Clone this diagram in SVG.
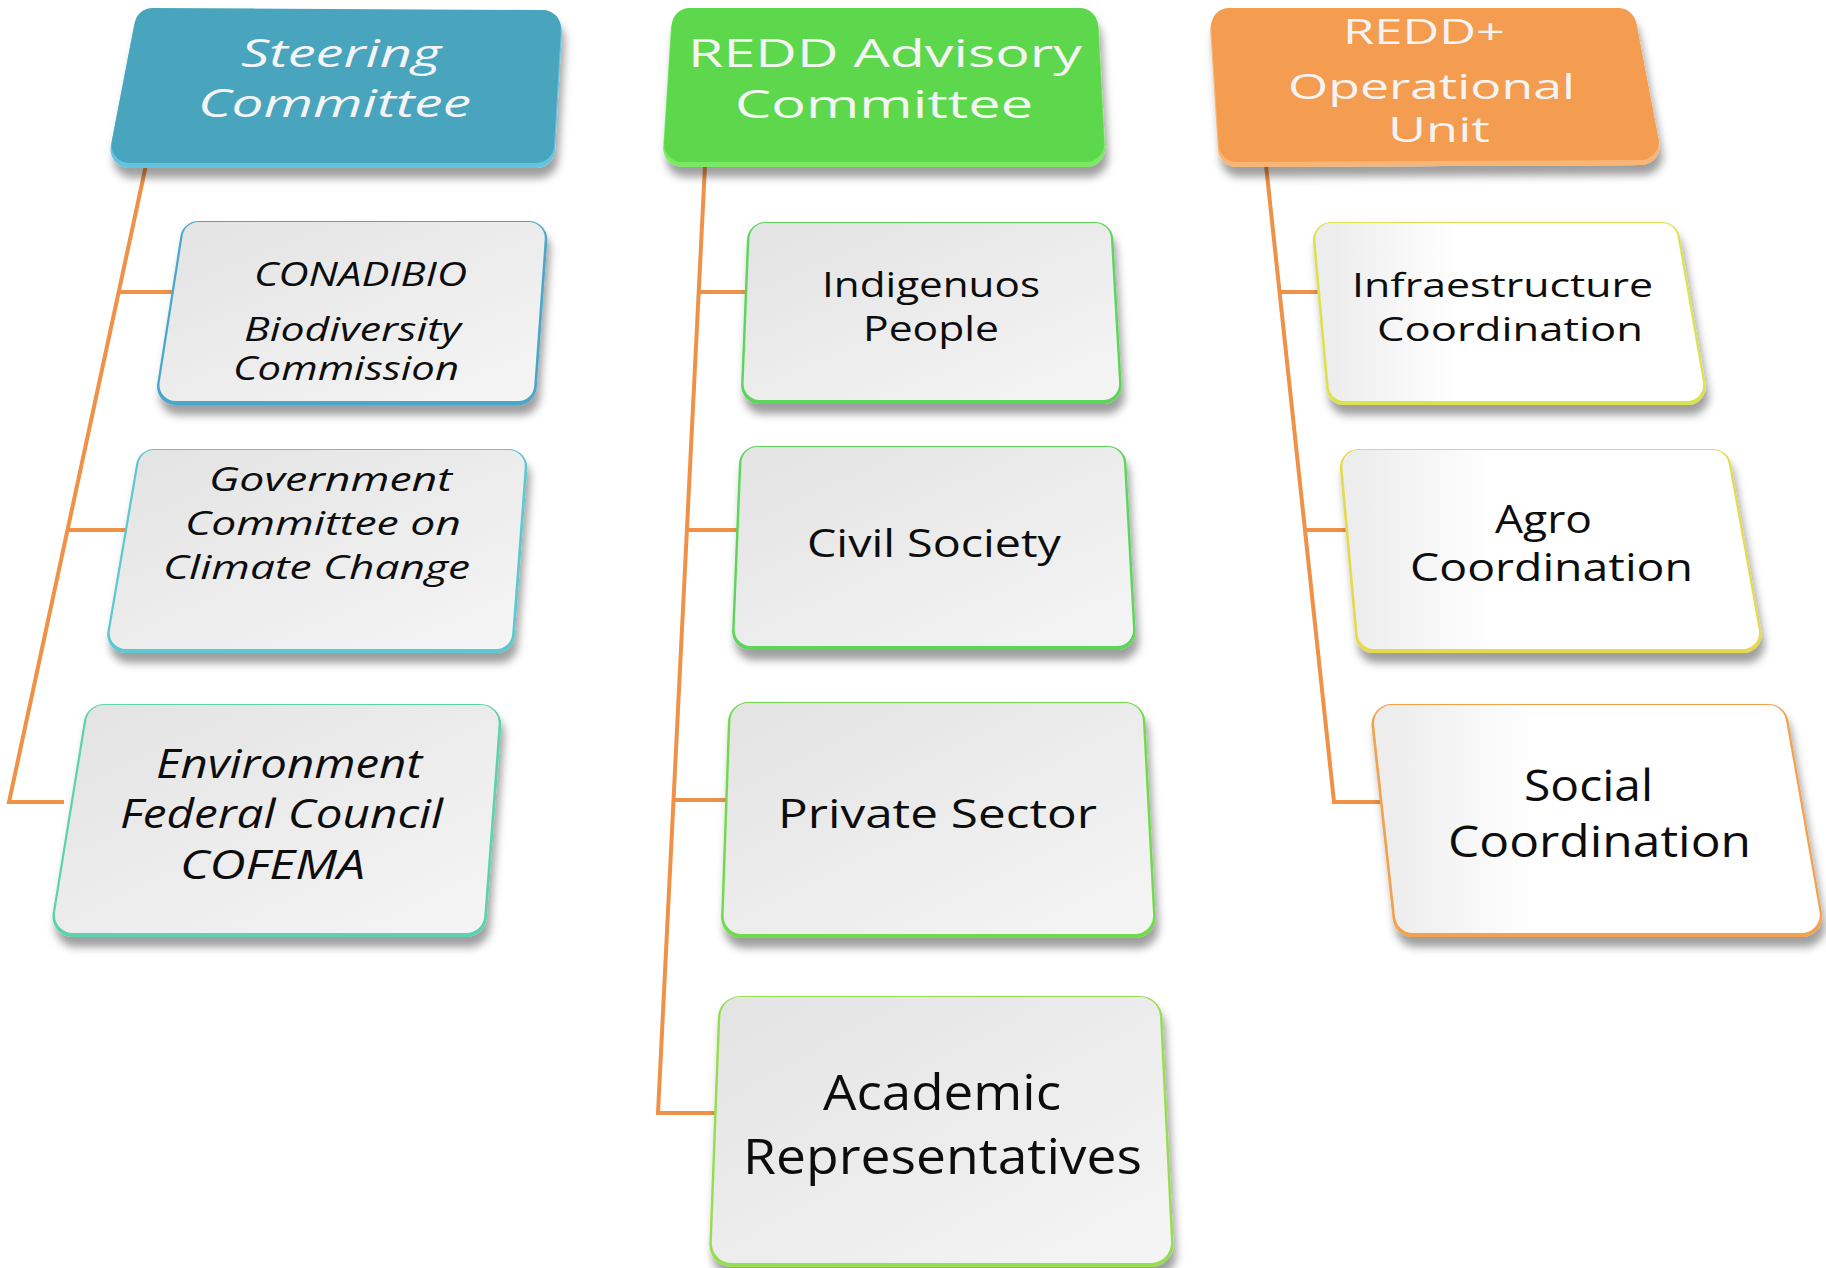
<svg xmlns="http://www.w3.org/2000/svg" xmlns:xlink="http://www.w3.org/1999/xlink" width="1826" height="1268" viewBox="0 0 1826 1268">
<defs>
<style>
.sh{filter:url(#ds)}
use{stroke-linejoin:round}
.b16{stroke-width:37}.f16{stroke-width:32}
.b18{stroke-width:41}.f18{stroke-width:36}
.b20{stroke-width:45}.f20{stroke-width:40}
.hb{stroke-width:38}.hf{stroke-width:36}
.gray{fill:url(#gBody);stroke:url(#gBody)}
.white{fill:url(#gWhite);stroke:url(#gWhite)}
.k-cona{fill:#4AA7CB;stroke:#4AA7CB}
.k-gov{fill:#5BC8CF;stroke:#5BC8CF}
.k-env{fill:#5CD3AE;stroke:#5CD3AE}
.k-ind{fill:#5CD65A;stroke:#5CD65A}
.k-pri{fill:#70DA4C;stroke:#70DA4C}
.k-aca{fill:#96DD50;stroke:#96DD50}
.k-inf{fill:#DCE250;stroke:#DCE250}
.k-agro{fill:#E5DA4E;stroke:#E5DA4E}
.k-soc{fill:#F2A24E;stroke:#F2A24E}
.h-steer{fill:#49A4BE;stroke:#49A4BE}
.hv-steer{fill:#64C4DE;stroke:#64C4DE}
.h-redd{fill:#5DD74B;stroke:#5DD74B}
.hv-redd{fill:#7AEA62;stroke:#7AEA62}
.h-oper{fill:#F49C4F;stroke:#F49C4F}
.hv-oper{fill:#F8B676;stroke:#F8B676}
text{font-family:"Open Sans","Liberation Sans",sans-serif}
.ht{fill:#F4F4F4}
.bt{fill:#0D0D0D}
.it{font-style:italic}
.conn{fill:none;stroke:#EF9146;stroke-width:4}
</style>
<filter id="ds" filterUnits="userSpaceOnUse" x="0" y="0" width="1826" height="1268">
<feDropShadow dx="3" dy="10" stdDeviation="4" flood-color="#000" flood-opacity="0.38"/>
</filter>
<linearGradient id="gBody" x1="0" y1="0" x2="1" y2="1">
<stop offset="0" stop-color="#E4E4E4"/>
<stop offset="1" stop-color="#F4F4F4"/>
</linearGradient>
<linearGradient id="gWhite" x1="0" y1="0" x2="1" y2="0">
<stop offset="0" stop-color="#EDEDED"/>
<stop offset="0.35" stop-color="#FFFFFF"/>
<stop offset="1" stop-color="#FFFFFF"/>
</linearGradient>
<path id="p-steer" d="M152.5 26 L542.9 28 L536.1 145 L129.5 145 Z"/>
<path id="p-redd" d="M689.8 26 L1079.9 26 L1086.1 144 L682.2 144 Z"/>
<path id="p-oper" d="M1229.2 26 L1618.4 26 L1640.6 142 L1236.8 144 Z"/>
<path id="p-cona" d="M198.5 238 L528.8 238 L518.2 385 L175.5 385 Z"/>
<path id="p-gov" d="M154.3 466 L508.8 466 L496.2 633 L125.7 633 Z"/>
<path id="p-env" d="M104.1 723 L480.7 723 L466.3 915 L72.9 915 Z"/>
<path id="p-ind" d="M765.4 239 L1094.9 239 L1103.1 384 L759.6 384 Z"/>
<path id="p-civ" d="M757.4 463 L1107.9 463 L1117.1 630 L750.6 630 Z"/>
<path id="p-pri" d="M748.4 721 L1124.9 721 L1135.1 916 L741.6 916 Z"/>
<path id="p-aca" d="M740.3 1017 L1140 1017 L1151 1243 L731.8 1243 Z"/>
<path id="p-inf" d="M1331.4 239 L1661.8 239 L1687.2 385 L1344.6 385 Z"/>
<path id="p-agro" d="M1358.4 466 L1712.9 466 L1743.1 633 L1373.6 633 Z"/>
<path id="p-soc" d="M1392 723 L1768.2 723 L1801.8 915 L1413 915 Z"/>
</defs>
<rect width="1826" height="1268" fill="#FFFFFF"/>

<g id="connectors" class="conn">
<polyline points="146,165 9,802 64,802"/>
<line x1="119" y1="292" x2="176" y2="292"/>
<line x1="68" y1="530" x2="127" y2="530"/>
<polyline points="705,165 658,1113 718,1113"/>
<line x1="699" y1="292" x2="750" y2="292"/>
<line x1="687" y1="530" x2="740" y2="530"/>
<line x1="674" y1="800" x2="730" y2="800"/>
<polyline points="1266,165 1334,802 1390,802"/>
<line x1="1280" y1="292" x2="1326" y2="292"/>
<line x1="1305" y1="530" x2="1354" y2="530"/>
</g>

<g id="steering-committee">
<g class="sh"><use href="#p-steer" class="hb hv-steer" transform="translate(0,4)"/><use href="#p-steer" class="hf h-steer"/></g>
<text class="ht it" font-size="38" x="241" y="67" textLength="200" lengthAdjust="spacingAndGlyphs">Steering</text>
<text class="ht it" font-size="38" x="198" y="117" textLength="273" lengthAdjust="spacingAndGlyphs">Committee</text>
</g>

<g id="redd-advisory-committee">
<g class="sh"><use href="#p-redd" class="hb hv-redd" transform="translate(0,4)"/><use href="#p-redd" class="hf h-redd"/></g>
<text class="ht" font-size="39" x="688" y="67" textLength="394" lengthAdjust="spacingAndGlyphs">REDD Advisory</text>
<text class="ht" font-size="39" x="735" y="118" textLength="298" lengthAdjust="spacingAndGlyphs">Committee</text>
</g>

<g id="redd-operational-unit">
<g class="sh"><use href="#p-oper" class="hb hv-oper" transform="translate(0,4)"/><use href="#p-oper" class="hf h-oper"/></g>
<text class="ht" font-size="35" x="1343" y="44" textLength="162" lengthAdjust="spacingAndGlyphs">REDD+</text>
<text class="ht" font-size="35" x="1288" y="99" textLength="287" lengthAdjust="spacingAndGlyphs">Operational</text>
<text class="ht" font-size="35" x="1388" y="142" textLength="102" lengthAdjust="spacingAndGlyphs">Unit</text>
</g>

<g id="conadibio">
<g class="sh"><use href="#p-cona" class="b16 k-cona" transform="translate(0,1.5)"/><use href="#p-cona" class="f16 gray"/></g>
<text class="bt it" font-size="32" x="254" y="286" textLength="213" lengthAdjust="spacingAndGlyphs">CONADIBIO</text>
<text class="bt it" font-size="32" x="244" y="341" textLength="217" lengthAdjust="spacingAndGlyphs">Biodiversity</text>
<text class="bt it" font-size="32" x="233" y="380" textLength="226" lengthAdjust="spacingAndGlyphs">Commission</text>
</g>

<g id="government-committee">
<g class="sh"><use href="#p-gov" class="b16 k-gov" transform="translate(0,1.5)"/><use href="#p-gov" class="f16 gray"/></g>
<text class="bt it" font-size="33" x="209" y="491" textLength="243" lengthAdjust="spacingAndGlyphs">Government</text>
<text class="bt it" font-size="33" x="185" y="535" textLength="276" lengthAdjust="spacingAndGlyphs">Committee on</text>
<text class="bt it" font-size="33" x="163" y="579" textLength="307" lengthAdjust="spacingAndGlyphs">Climate Change</text>
</g>

<g id="environment-council">
<g class="sh"><use href="#p-env" class="b18 k-env" transform="translate(0,1.5)"/><use href="#p-env" class="f18 gray"/></g>
<text class="bt it" font-size="40" x="156" y="778" textLength="266" lengthAdjust="spacingAndGlyphs">Environment</text>
<text class="bt it" font-size="40" x="120" y="828" textLength="323" lengthAdjust="spacingAndGlyphs">Federal Council</text>
<text class="bt it" font-size="40" x="180" y="879" textLength="185" lengthAdjust="spacingAndGlyphs">COFEMA</text>
</g>

<g id="indigenous-people">
<g class="sh"><use href="#p-ind" class="b16 k-ind" transform="translate(0,1.5)"/><use href="#p-ind" class="f16 gray"/></g>
<text class="bt" font-size="35" x="822" y="297" textLength="218" lengthAdjust="spacingAndGlyphs">Indigenuos</text>
<text class="bt" font-size="35" x="863" y="341" textLength="136" lengthAdjust="spacingAndGlyphs">People</text>
</g>

<g id="civil-society">
<g class="sh"><use href="#p-civ" class="b16 k-ind" transform="translate(0,1.5)"/><use href="#p-civ" class="f16 gray"/></g>
<text class="bt" font-size="39" x="807" y="557" textLength="254" lengthAdjust="spacingAndGlyphs">Civil Society</text>
</g>

<g id="private-sector">
<g class="sh"><use href="#p-pri" class="b18 k-pri" transform="translate(0,1.5)"/><use href="#p-pri" class="f18 gray"/></g>
<text class="bt" font-size="41" x="778" y="828" textLength="319" lengthAdjust="spacingAndGlyphs">Private Sector</text>
</g>

<g id="academic-representatives">
<g class="sh"><use href="#p-aca" class="b20 k-aca" transform="translate(0,1.5)"/><use href="#p-aca" class="f20 gray"/></g>
<text class="bt" font-size="50" x="823" y="1110" textLength="238" lengthAdjust="spacingAndGlyphs">Academic</text>
<text class="bt" font-size="50" x="743" y="1174" textLength="399" lengthAdjust="spacingAndGlyphs">Representatives</text>
</g>

<g id="infrastructure-coordination">
<g class="sh"><use href="#p-inf" class="b16 k-inf" transform="translate(0,1.5)"/><use href="#p-inf" class="f16 white"/></g>
<text class="bt" font-size="33" x="1352" y="297" textLength="301" lengthAdjust="spacingAndGlyphs">Infraestructure</text>
<text class="bt" font-size="33" x="1377" y="341" textLength="266" lengthAdjust="spacingAndGlyphs">Coordination</text>
</g>

<g id="agro-coordination">
<g class="sh"><use href="#p-agro" class="b16 k-agro" transform="translate(0,1.5)"/><use href="#p-agro" class="f16 white"/></g>
<text class="bt" font-size="39" x="1495" y="533" textLength="97" lengthAdjust="spacingAndGlyphs">Agro</text>
<text class="bt" font-size="39" x="1410" y="581" textLength="283" lengthAdjust="spacingAndGlyphs">Coordination</text>
</g>

<g id="social-coordination">
<g class="sh"><use href="#p-soc" class="b18 k-soc" transform="translate(0,1.5)"/><use href="#p-soc" class="f18 white"/></g>
<text class="bt" font-size="44" x="1524" y="801" textLength="129" lengthAdjust="spacingAndGlyphs">Social</text>
<text class="bt" font-size="44" x="1448" y="857" textLength="303" lengthAdjust="spacingAndGlyphs">Coordination</text>
</g>
</svg>
